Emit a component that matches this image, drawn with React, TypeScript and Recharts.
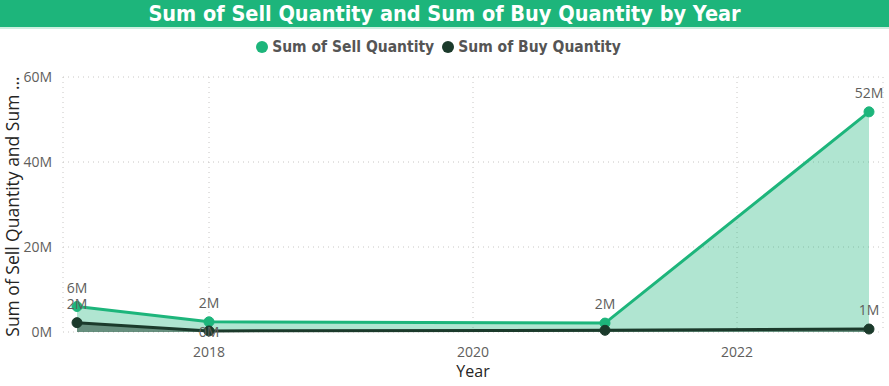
import { AreaChart, Area, XAxis, YAxis, CartesianGrid, LabelList } from 'recharts';

const years = [2017, 2018, 2021, 2023];
const sellQuantity = [6.0e6, 2.4e6, 2.1e6, 51.8e6];
const buyQuantity = [2.2e6, 0.25e6, 0.4e6, 0.7e6];
const yTicks = [0, 20e6, 40e6, 60e6];
const xTicks = [2018, 2020, 2022];

const seriesNames = ['Sum of Sell Quantity', 'Sum of Buy Quantity'];
const titleText = 'Sum of Sell Quantity and Sum of Buy Quantity by Year';
const xTitle = 'Year';
const yTitle = 'Sum of Sell Quantity and Sum ...';

const SELL = '#1DB57B';
const BUY = '#1B3A2B';
const FONT = '"Open Sans", sans-serif';
const TITLE_FONT = '"DejaVu Sans Condensed", "Liberation Sans Narrow", sans-serif';

const data = years.map((y, i) => ({ year: y, sell: sellQuantity[i], buy: buyQuantity[i] }));

const fmt = (v: number) => `${Math.round(v / 1e6)}M`;

function sellLabel(props: any) {
  const { x, y, value } = props;
  return (
    <text x={x} y={y - 14} textAnchor="middle" fill="#605E5C" fontSize={14} fontFamily={FONT}>
      {fmt(value)}
    </text>
  );
}

function buyLabel(props: any) {
  const { x, y, value, index } = props;
  // Power BI drops the 2021 label and pushes the 2018 one onto the point
  if (index === 2) return null;
  const dy = index === 1 ? 6 : -14;
  return (
    <text x={x} y={y + dy} textAnchor="middle" fill="#605E5C" fontSize={14} fontFamily={FONT}>
      {fmt(value)}
    </text>
  );
}

export default function App() {
  const colors = [SELL, BUY];
  return (
    <div style={{ position: 'absolute', left: 0, top: 0, width: 889, height: 386, background: '#fff' }}>
      <div
        style={{
          position: 'absolute', left: 0, top: 0, width: 889, height: 27,
          background: SELL, color: '#fff', textAlign: 'center', lineHeight: '27px',
          fontFamily: TITLE_FONT, fontWeight: 700, fontSize: 21.5,
          borderBottom: '2px solid #CDEFE0',
        }}
      >
        {titleText}
      </div>
      <div
        style={{
          position: 'absolute', left: 0, top: 37, width: 877, paddingRight: 12, display: 'flex',
          justifyContent: 'center', gap: 8, fontFamily: TITLE_FONT, fontWeight: 700,
          fontSize: 15.5, color: '#555', lineHeight: '20px',
        }}
      >
        {seriesNames.map((n, i) => (
          <span key={n} style={{ display: 'flex', alignItems: 'center' }}>
            <span style={{ width: 12, height: 12, borderRadius: 6, background: colors[i], marginRight: 4, display: 'inline-block' }} />
            {n}
          </span>
        ))}
      </div>
      <div style={{ position: 'absolute', left: 0, top: 0 }}>
        <AreaChart width={889} height={386} data={data} margin={{ top: 77, right: 6, left: 0, bottom: 0 }}>
          <CartesianGrid stroke="#C8C6C4" strokeDasharray="1 4" />
          <XAxis
            type="number"
            dataKey="year"
            domain={[2017, 2023]}
            ticks={xTicks}
            padding={{ left: 14, right: 14 }}
            axisLine={false}
            tickLine={false}
            tickSize={0}
            tickMargin={15}
            height={54}
            tick={{ fill: '#605E5C', fontSize: 14, fontFamily: FONT }}
            label={{
              content: (p: any) => {
                const vb = p.viewBox;
                return (
                  <text x={vb.x + vb.width / 2} y={377} textAnchor="middle" fill="#252423" fontSize={16} fontFamily={FONT}>
                    {xTitle}
                  </text>
                );
              },
            }}
          />
          <YAxis
            domain={[0, 60e6]}
            ticks={yTicks}
            width={63}
            axisLine={false}
            tickLine={false}
            tickSize={0}
            tickMargin={11}
            tickFormatter={fmt}
            tick={{ fill: '#605E5C', fontSize: 14, fontFamily: FONT }}
            label={{
              content: (p: any) => {
                const vb = p.viewBox;
                const cx = 19;
                const cy = vb.y + vb.height / 2 + 2;
                return (
                  <text x={cx} y={cy} transform={`rotate(-90 ${cx} ${cy})`} textAnchor="middle" fill="#252423" fontSize={17.5} fontFamily={FONT}>
                    {yTitle}
                  </text>
                );
              },
            }}
          />
          <Area
            type="linear"
            dataKey="sell"
            name={seriesNames[0]}
            stroke={SELL}
            strokeWidth={3}
            fill={SELL}
            fillOpacity={0.35}
            dot={{ r: 5, fill: SELL, fillOpacity: 1, stroke: SELL, strokeWidth: 1 }}
            activeDot={false}
            isAnimationActive={false}
          >
            <LabelList dataKey="sell" content={sellLabel} />
          </Area>
          <Area
            type="linear"
            dataKey="buy"
            name={seriesNames[1]}
            stroke={BUY}
            strokeWidth={3}
            fill={BUY}
            fillOpacity={0.5}
            dot={{ r: 5, fill: BUY, fillOpacity: 1, stroke: BUY, strokeWidth: 1 }}
            activeDot={false}
            isAnimationActive={false}
          >
            <LabelList dataKey="buy" content={buyLabel} />
          </Area>
        </AreaChart>
      </div>
    </div>
  );
}
